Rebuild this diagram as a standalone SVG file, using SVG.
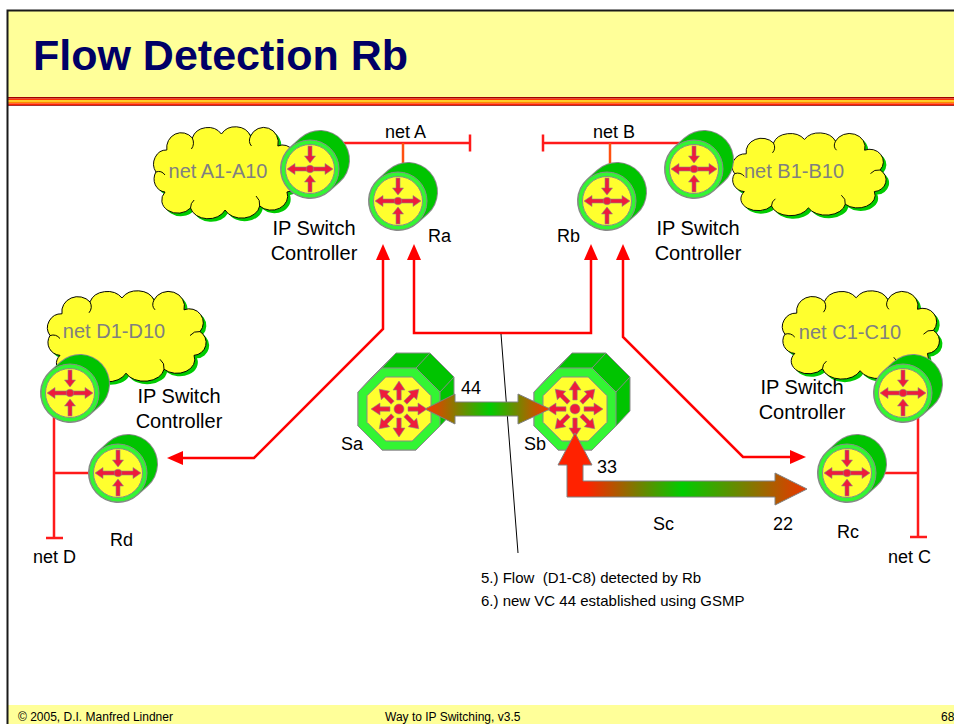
<svg xmlns="http://www.w3.org/2000/svg" xmlns:xlink="http://www.w3.org/1999/xlink" width="954" height="724" viewBox="0 0 954 724">
  <style>
    text { font-family: "Liberation Sans", Arial, sans-serif; fill: #000; white-space: pre; }
    .title { font-size: 43px; font-weight: bold; fill: #000066; }
    .foot { font-size: 12px; }
    .lbl { font-size: 18px; }
    .ctl { font-size: 20px; text-anchor: middle; }
    .cloudtxt { font-size: 20px; fill: #808080; text-anchor: middle; }
    .note { font-size: 15px; }
    .net { fill: none; stroke: #FF1A1A; stroke-width: 2.5; }
    .drop { fill: none; stroke: #FF5010; stroke-width: 2.5; }
    .conn { fill: none; stroke: #FF0000; stroke-width: 2.5; marker-start: url(#ah); marker-end: url(#ah); }
    .cloud { fill: #FFFF2E; stroke: #000; stroke-width: 1; vector-effect: non-scaling-stroke; }
    .curl { fill: none; stroke: #000; stroke-width: 1; vector-effect: non-scaling-stroke; }
    .cloudshadow { fill: #00CC00; }
    .ico { fill: #EE1B3C; stroke: #8A8A8A; stroke-width: 0.6; }
    .flow { stroke: #808080; stroke-width: 1; }
  </style>
  <defs>
    <marker id="ah" markerUnits="userSpaceOnUse" viewBox="0 0 16 14" markerWidth="16" markerHeight="14" refX="10" refY="7" orient="auto-start-reverse">
      <path d="M0,0 L16,7 L0,14 Z" fill="#FF0000"/>
    </marker>

    <linearGradient id="g44" gradientUnits="userSpaceOnUse" x1="425" y1="0" x2="550" y2="0">
      <stop offset="0" stop-color="#FF3300"/>
      <stop offset="0.52" stop-color="#00CC00"/>
      <stop offset="1" stop-color="#FF3300"/>
    </linearGradient>
    <linearGradient id="g33" gradientUnits="userSpaceOnUse" x1="567" y1="0" x2="807" y2="0">
      <stop offset="0" stop-color="#FF2200"/>
      <stop offset="0.08" stop-color="#FF2200"/>
      <stop offset="0.48" stop-color="#00CC00"/>
      <stop offset="1" stop-color="#EE3300"/>
    </linearGradient>

    <!-- cloud outline in a 170 x 84 box -->
    <path id="cloudshape" d="M22,64 A13,13 0 0 1 12,44 A14,14 0 0 1 24,22 A16,15 0 0 1 52,10 A18,15 0 0 1 84,6 A18,15 0 0 1 116,8 A16,15 0 0 1 146,18 A14,14 0 0 1 162,40 A13,13 0 0 1 156,64 A18,14 0 0 1 126,78 A20,14 0 0 1 88,82 A20,14 0 0 1 50,80 A16,12 0 0 1 22,64 Z"/>
    <!-- small inner curls where the bumps meet -->
    <path id="cloudcurls" d="M52,10 q3,6 -1,11 M116,8 q-3,6 1,10 M162,40 q-6,-1 -10,4 M126,78 q1,-6 -4,-10 M12,44 q6,-2 10,3 M50,80 q0,-5 4,-8"/>

    <!-- router: cylinder with four-way arrows -->
    <g id="router">
      <line x1="0" y1="0" x2="10" y2="-9" stroke="#8A8A8A" stroke-width="60" stroke-linecap="round"/>
      <line x1="0" y1="0" x2="10" y2="-9" stroke="#00C400" stroke-width="58" stroke-linecap="round"/>
      <circle r="29" fill="#33F533" stroke="#8A8A8A" stroke-width="1"/>
      <circle r="24.5" fill="#FFFF2E" stroke="#8A8A8A" stroke-width="1"/>
      <polygon class="ico" points="-23,0 -15,-5.5 -15,-2 15,-2 15,-5.5 23,0 15,5.5 15,2 -15,2 -15,5.5"/>
      <polygon class="ico" points="-2,-23 2,-23 2,-13 5.5,-13 0,-6 -5.5,-13 -2,-13"/>
      <polygon class="ico" points="-2,23 2,23 2,13 5.5,13 0,6 -5.5,13 -2,13"/>
      <circle r="3.8" class="ico"/>
    </g>

    <!-- single radial arrow for the switch face -->
    <polygon id="ray" class="ico" points="9,-2.2 19,-2.2 19,-6 28,0 19,6 19,2.2 9,2.2"/>

    <!-- ATM switch: octagonal prism with eight outward arrows -->
    <g id="switch">
      <polygon points="41,17 17,41 -17,41 -41,17 -41,-17 -27,-32 -3,-56 31,-56 55,-32 55,2" fill="#00C400" stroke="#8A8A8A" stroke-width="1"/>
      <line x1="-17" y1="-41" x2="-3" y2="-56" stroke="#8A8A8A"/>
      <line x1="17" y1="-41" x2="31" y2="-56" stroke="#8A8A8A"/>
      <line x1="41" y1="-17" x2="55" y2="-32" stroke="#8A8A8A"/>
      <polygon points="-17,-41 17,-41 41,-17 41,17 17,41 -17,41 -41,17 -41,-17" fill="#33F533" stroke="#8A8A8A" stroke-width="1"/>
      <polygon points="-13.25,-32 13.25,-32 32,-13.25 32,13.25 13.25,32 -13.25,32 -32,13.25 -32,-13.25" fill="#FFFF2E" stroke="#8A8A8A" stroke-width="1"/>
      <use xlink:href="#ray"/>
      <use xlink:href="#ray" transform="rotate(45)"/>
      <use xlink:href="#ray" transform="rotate(90)"/>
      <use xlink:href="#ray" transform="rotate(135)"/>
      <use xlink:href="#ray" transform="rotate(180)"/>
      <use xlink:href="#ray" transform="rotate(225)"/>
      <use xlink:href="#ray" transform="rotate(270)"/>
      <use xlink:href="#ray" transform="rotate(315)"/>
      <circle r="5" class="ico"/>
    </g>
  </defs>

  <!-- page frame, title bar and footer -->
  <rect x="0" y="0" width="954" height="724" fill="#FFFFFF"/>
  <rect x="8" y="11" width="946" height="86" fill="#FFFF99"/>
  <rect x="8" y="97" width="946" height="1.6" fill="#A00000"/>
  <rect x="8" y="98.6" width="946" height="1.6" fill="#FF3300"/>
  <rect x="8" y="100.2" width="946" height="1.6" fill="#FFCC00"/>
  <rect x="8" y="101.8" width="946" height="1.6" fill="#FF8800"/>
  <rect x="8" y="103.4" width="946" height="1.6" fill="#FF2200"/>
  <rect x="8" y="105" width="946" height="0.8" fill="#900000"/>
  <rect x="8" y="705" width="946" height="19" fill="#FFFF99"/>
  <path d="M7.5,724 V10.5 H954" fill="none" stroke="#1A1A1A" stroke-width="2"/>
  <text class="title" x="33" y="70">Flow Detection Rb</text>
  <text class="foot" x="18" y="721">© 2005, D.I. Manfred Lindner</text>
  <text class="foot" x="385" y="721">Way to IP Switching, v3.5</text>
  <text class="foot" x="941" y="721">68</text>

  <!-- clouds of attached networks -->
  <g id="cloud-a">
    <use xlink:href="#cloudshape" class="cloudshadow" transform="translate(148,131) scale(0.91,1)"/>
    <use xlink:href="#cloudshape" class="cloud" transform="translate(145,128) scale(0.91,1)"/>
    <use xlink:href="#cloudcurls" class="curl" transform="translate(145,128) scale(0.91,1)"/>
    <text class="cloudtxt" x="218" y="178">net A1-A10</text>
  </g>
  <g id="cloud-b">
    <use xlink:href="#cloudshape" class="cloudshadow" transform="translate(726,137) scale(0.97,0.9)"/>
    <use xlink:href="#cloudshape" class="cloud" transform="translate(723,134) scale(0.97,0.9)"/>
    <use xlink:href="#cloudcurls" class="curl" transform="translate(723,134) scale(0.97,0.9)"/>
    <text class="cloudtxt" x="794" y="178">net B1-B10</text>
  </g>
  <g id="cloud-d">
    <use xlink:href="#cloudshape" class="cloudshadow" transform="translate(41,295) scale(1,0.99)"/>
    <use xlink:href="#cloudshape" class="cloud" transform="translate(38,292) scale(1,0.99)"/>
    <use xlink:href="#cloudcurls" class="curl" transform="translate(38,292) scale(1,0.99)"/>
    <text class="cloudtxt" x="114" y="338">net D1-D10</text>
  </g>
  <g id="cloud-c">
    <use xlink:href="#cloudshape" class="cloudshadow" transform="translate(776,295) scale(0.99,0.96)"/>
    <use xlink:href="#cloudshape" class="cloud" transform="translate(773,292) scale(0.99,0.96)"/>
    <use xlink:href="#cloudcurls" class="curl" transform="translate(773,292) scale(0.99,0.96)"/>
    <text class="cloudtxt" x="850" y="339">net C1-C10</text>
  </g>

  <!-- LAN segments -->
  <g id="lans">
    <path class="net" d="M310,143 H470 M470,134.5 V151.5"/>
    <path class="drop" d="M403,143 V166"/>
    <text class="lbl" x="385" y="138">net A</text>
    <path class="net" d="M694,143 H543 M543,134.5 V151.5"/>
    <path class="drop" d="M610,143 V166"/>
    <text class="lbl" x="593" y="138">net B</text>
    <path class="net" d="M54,410 V538 M46,538 H63 M54,473 H100"/>
    <text class="lbl" x="33" y="563">net D</text>
    <path class="net" d="M918,410 V537 M910,537 H927 M918,473 H860"/>
    <text class="lbl" x="888" y="563">net C</text>
  </g>

  <!-- routers and controllers -->
  <g id="ctrl-a">
    <use xlink:href="#router" transform="translate(310,169)"/>
    <text class="ctl" x="314" y="235">IP Switch</text>
    <text class="ctl" x="314" y="260">Controller</text>
  </g>
  <g id="ra">
    <use xlink:href="#router" transform="translate(398,201)"/>
    <text class="lbl" x="428" y="242">Ra</text>
  </g>
  <g id="rb">
    <use xlink:href="#router" transform="translate(607,201)"/>
    <text class="lbl" x="557" y="242">Rb</text>
  </g>
  <g id="ctrl-b">
    <use xlink:href="#router" transform="translate(694,169)"/>
    <text class="ctl" x="698" y="235">IP Switch</text>
    <text class="ctl" x="698" y="260">Controller</text>
  </g>
  <g id="ctrl-d">
    <use xlink:href="#router" transform="translate(70,393)"/>
    <text class="ctl" x="179" y="403">IP Switch</text>
    <text class="ctl" x="179" y="428">Controller</text>
  </g>
  <g id="rd">
    <use xlink:href="#router" transform="translate(118,473)"/>
    <text class="lbl" x="110" y="546">Rd</text>
  </g>
  <g id="ctrl-c">
    <use xlink:href="#router" transform="translate(903,393)"/>
    <text class="ctl" x="802" y="394">IP Switch</text>
    <text class="ctl" x="802" y="419">Controller</text>
  </g>
  <g id="rc">
    <use xlink:href="#router" transform="translate(847,473)"/>
    <text class="lbl" x="837" y="538">Rc</text>
  </g>

  <!-- ATM switches -->
  <g id="sa">
    <use xlink:href="#switch" transform="translate(399,409)"/>
    <text class="lbl" x="341" y="450">Sa</text>
  </g>
  <g id="sb">
    <use xlink:href="#switch" transform="translate(575,409)"/>
    <text class="lbl" x="524" y="450">Sb</text>
  </g>
  <g id="sc">
    <text class="lbl" x="653" y="530">Sc</text>
  </g>

  <!-- connectors -->
  <g id="connectors">
    <path class="conn" d="M383,250 V329 L254,458 H173"/>
    <path class="conn" d="M414,250 V333 H591 V250"/>
    <path class="conn" d="M623,250 V337 L743,457 H800"/>
    <line x1="501" y1="334" x2="518" y2="553" stroke="#000" stroke-width="1"/>
    <polygon class="flow" fill="url(#g44)" points="425,409 455,394 455,402 518,402 518,394 550,409 518,424 518,416 455,416 455,424"/>
    <polygon class="flow" fill="url(#g33)" points="575,433 592,465 583,465 583,481 775,481 775,473 807,489 775,505 775,497 567,497 567,465 558,465"/>
    <text class="lbl" x="461" y="394">44</text>
    <text class="lbl" x="597" y="473">33</text>
    <text class="lbl" x="773" y="530">22</text>
  </g>

  <!-- event notes -->
  <text class="note" x="481" y="583">5.) Flow  (D1-C8) detected by Rb</text>
  <text class="note" x="481" y="606">6.) new VC 44 established using GSMP</text>
</svg>
